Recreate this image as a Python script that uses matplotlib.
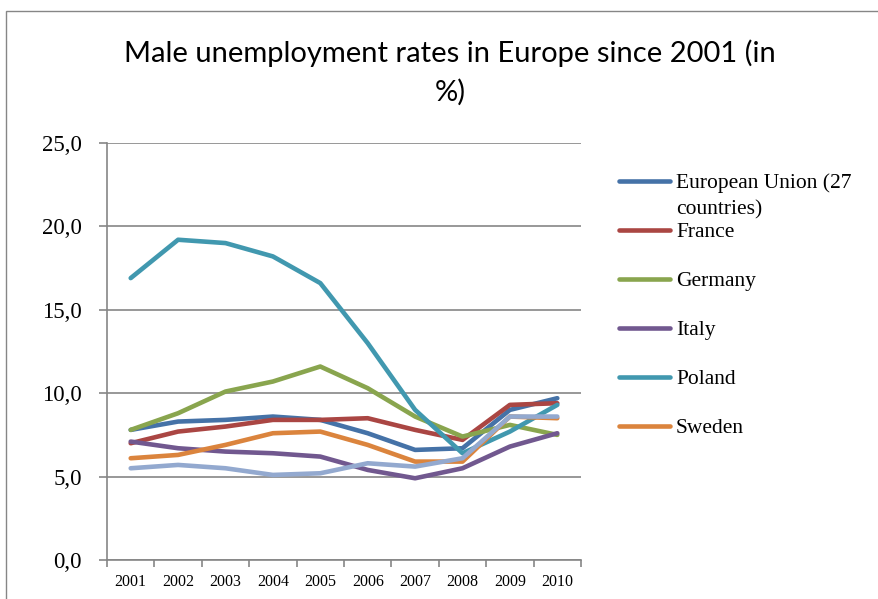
import matplotlib
matplotlib.use("Agg")
import matplotlib.pyplot as plt
from matplotlib.lines import Line2D
from matplotlib.patches import Rectangle

# data
years = ["2001", "2002", "2003", "2004", "2005", "2006", "2007", "2008", "2009", "2010"]
eu = [7.8, 8.3, 8.4, 8.6, 8.4, 7.6, 6.6, 6.7, 9.0, 9.7]
france = [7.0, 7.7, 8.0, 8.4, 8.4, 8.5, 7.8, 7.2, 9.3, 9.4]
germany = [7.8, 8.8, 10.1, 10.7, 11.6, 10.3, 8.6, 7.4, 8.1, 7.5]
italy = [7.1, 6.7, 6.5, 6.4, 6.2, 5.4, 4.9, 5.5, 6.8, 7.6]
poland = [16.9, 19.2, 19.0, 18.2, 16.6, 13.0, 9.0, 6.4, 7.7, 9.3]
sweden = [6.1, 6.3, 6.9, 7.6, 7.7, 6.9, 5.9, 5.9, 8.6, 8.5]
uk = [5.5, 5.7, 5.5, 5.1, 5.2, 5.8, 5.6, 6.1, 8.6, 8.6]

names = ["European Union (27\ncountries)", "France", "Germany", "Italy",
         "Poland", "Sweden", "United Kingdom"]
series = [eu, france, germany, italy, poland, sweden, uk]
colors = ["#4572A7", "#AA4643", "#89A54E", "#71588F", "#4198AF", "#DB843D", "#93A9CF"]

serif = ["Liberation Serif", "DejaVu Serif"]
grey = "#868686"

fig = plt.figure(figsize=(8.79, 5.99), dpi=100)
ax = fig.add_axes([107 / 879, 1 - 560 / 599, (581 - 107) / 879, (560 - 143) / 599])

x = list(range(len(years)))
for vals, col, name in zip(series, colors, names):
    ax.plot(x, vals, color=col, lw=3.3, solid_capstyle="round",
            solid_joinstyle="round", label=name)

ax.set_xlim(-0.5, len(years) - 0.5)
ax.set_ylim(0, 25)
yt = [0, 5, 10, 15, 20, 25]
ax.set_yticks(yt)
ax.set_yticklabels([("%.1f" % v).replace(".", ",") for v in yt], family=serif, fontsize=16.5)
ax.set_xticks(x)
ax.set_xticklabels(years, family=serif, fontsize=11.5)
ax.set_xticks([i - 0.5 for i in range(len(years) + 1)], minor=True)
ax.tick_params(axis="x", which="major", length=0, pad=10)
ax.tick_params(axis="x", which="minor", length=5, color=grey, width=1.2)
ax.tick_params(axis="y", length=6, color=grey, width=1.2, pad=12)
ax.grid(axis="y", color=grey, lw=1.2)
ax.set_axisbelow(True)
for s in ["top", "right"]:
    ax.spines[s].set_visible(False)
for s in ["left", "bottom"]:
    ax.spines[s].set_color(grey)
    ax.spines[s].set_linewidth(1.2)

# title
tfont = ["Lato", "DejaVu Sans"]
fig.text(450 / 879, 1 - 53 / 599, "Male unemployment rates in Europe since 2001 (in",
         ha="center", va="center", fontsize=21, family=tfont)
fig.text(450 / 879, 1 - 92 / 599, "%)",
         ha="center", va="center", fontsize=21, family=tfont)

# legend (the last series does not fit in the original)
for i, (name, col) in enumerate(zip(names[:6], colors[:6])):
    yy = 1 - (181 + 49 * i) / 599
    fig.add_artist(Line2D([619 / 879, 670 / 879], [yy, yy], color=col, lw=3.3,
                          solid_capstyle="round"))
    for k, part in enumerate(name.split("\n")):
        fig.text(676 / 879, yy - 26 * k / 599, part, ha="left", va="center_baseline",
                 fontsize=15.5, family=serif)

# outer frame of the chart area
fig.add_artist(Rectangle((6 / 879, -0.1), 1.2, 1.1 - 11 / 599, fill=False,
                         edgecolor=grey, lw=1, transform=fig.transFigure))

fig.savefig("out.png", dpi=100)
